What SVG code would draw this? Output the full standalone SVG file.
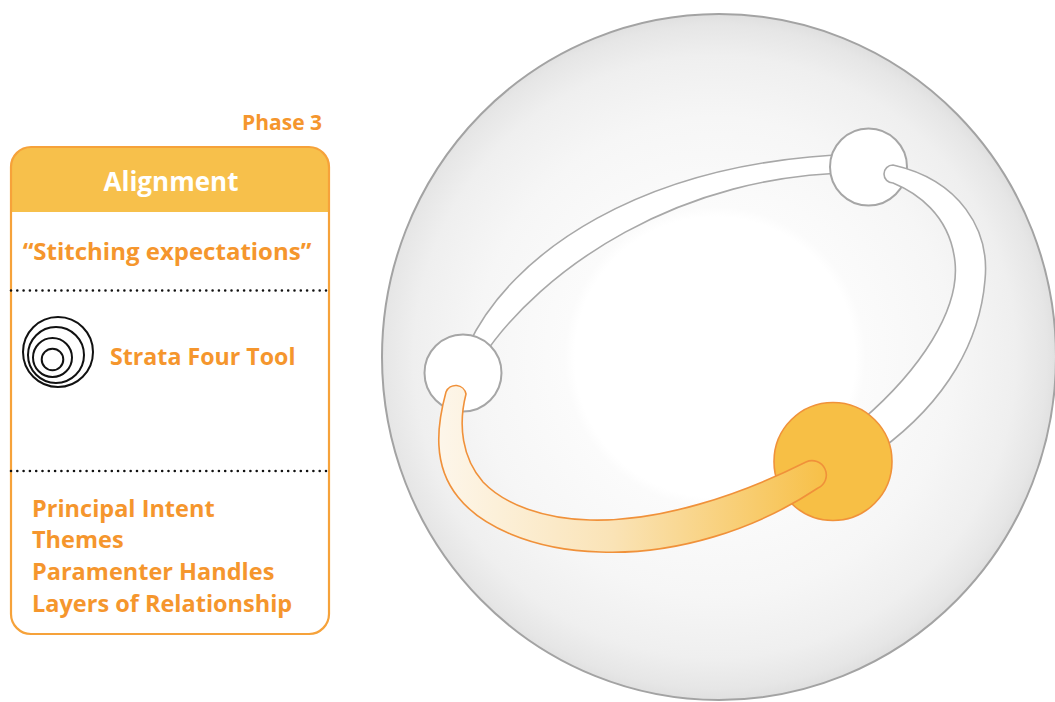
<svg xmlns="http://www.w3.org/2000/svg" width="1055" height="702" viewBox="0 0 1055 702">
  <style>
    .lbl { font-family: "Open Sans", "Liberation Sans", sans-serif; font-weight: 700; fill: #f5962d; }
    .head { font-family: "Open Sans", "Liberation Sans", sans-serif; font-weight: 700; fill: #ffffff; }
    .dots { stroke: #111111; stroke-width: 2.6; stroke-linecap: round; stroke-dasharray: 0 6.3; fill: none; }
    .ring { fill: none; stroke: #111111; stroke-width: 2; }
    .wnode { fill: #ffffff; stroke: #a6a6a6; stroke-width: 2; }
    .wtube { fill: #ffffff; stroke: #a8a8a8; stroke-width: 1.6; }
    .onode { fill: #f7bf45; stroke: #f0923a; stroke-width: 1.6; }
    .otube { fill: url(#tubeGrad); stroke: #f0913a; stroke-width: 1.6; }
  </style>
  <defs>
    <radialGradient id="sphereGrad" gradientUnits="userSpaceOnUse" cx="715" cy="357" r="342">
      <stop offset="0" stop-color="#ffffff"/>
      <stop offset="0.41" stop-color="#ffffff"/>
      <stop offset="0.44" stop-color="#fbfbfb"/>
      <stop offset="0.7" stop-color="#f6f6f6"/>
      <stop offset="0.88" stop-color="#efefef"/>
      <stop offset="0.97" stop-color="#e6e6e6"/>
      <stop offset="1" stop-color="#e0e0e0"/>
    </radialGradient>
    <linearGradient id="tubeGrad" gradientUnits="userSpaceOnUse" x1="440" y1="0" x2="825" y2="0">
      <stop offset="0" stop-color="#fdf6ea"/>
      <stop offset="0.45" stop-color="#fae3b6"/>
      <stop offset="1" stop-color="#f7c048"/>
    </linearGradient>
  </defs>

  <!-- phase card -->
  <g id="phase-card">
    <text class="lbl" x="322" y="130" font-size="21" text-anchor="end">Phase 3</text>
    <path d="M 11 212 V 167 A 20 20 0 0 1 31 147 H 309 A 20 20 0 0 1 329 167 V 212 Z" fill="#f7c04b"/>
    <rect x="11" y="147" width="318" height="487" rx="20" ry="20" fill="none" stroke="#f6a23a" stroke-width="2.2"/>
    <text class="head" x="171" y="190.5" font-size="26" text-anchor="middle">Alignment</text>
    <text class="lbl" x="167" y="259.5" font-size="24" text-anchor="middle">“Stitching expectations”</text>
    <line class="dots" x1="11" y1="290.5" x2="327" y2="290.5"/>
    <g id="strata-icon">
      <circle class="ring" cx="58" cy="352" r="35"/>
      <circle class="ring" cx="56" cy="355" r="28"/>
      <circle class="ring" cx="52.5" cy="357.5" r="19.5"/>
      <circle class="ring" cx="52.5" cy="359.5" r="10.8"/>
    </g>
    <text class="lbl" x="110" y="365" font-size="23.2">Strata Four Tool</text>
    <line class="dots" x1="11" y1="471" x2="327" y2="471"/>
    <text class="lbl" x="32" y="516.7" font-size="23.5">Principal Intent</text>
    <text class="lbl" x="32" y="548.3" font-size="23.5">Themes</text>
    <text class="lbl" x="32" y="580" font-size="23.5">Paramenter Handles</text>
    <text class="lbl" x="32" y="611.7" font-size="23.5">Layers of Relationship</text>
  </g>

  <!-- sphere -->
  <g id="sphere">
    <ellipse cx="719" cy="357" rx="337" ry="343" fill="url(#sphereGrad)" stroke="#a3a3a3" stroke-width="2"/>
  </g>

  <!-- upper white tube runs beneath both white nodes -->
  <g id="connectors-back">
    <path class="wtube" d="M 468 346 C 510 255, 640 160, 860 154 L 860 173 C 680 172, 540 270, 482 358 Z"/>
  </g>

  <g id="node-left">
    <circle class="wnode" cx="463" cy="373" r="38.5"/>
  </g>
  <g id="node-top">
    <circle class="wnode" cx="868.5" cy="167" r="38.5"/>
  </g>

  <!-- right white tube starts on top of the top node and ends under the orange node -->
  <g id="connectors-mid">
    <path class="wtube" d="M 893 165 C 960 180, 990 230, 985 280 C 980 340, 948 400, 880 450 L 862 420 C 920 370, 960 310, 955 262 C 950 214, 915 192, 893 183 A 9 9 0 0 1 893 165 Z"/>
  </g>

  <g id="node-orange">
    <circle class="onode" cx="833" cy="461.5" r="59"/>
  </g>

  <!-- orange tube lies over the left and orange nodes -->
  <g id="connectors">
    <path class="otube" d="M 446 392 C 437 425, 432 465, 458 497 C 480 525, 530 550, 600 552 C 675 555, 755 530, 818 488 A 14 14 0 0 0 806 462 C 740 495, 660 522, 590 520 C 545 519, 505 505, 483 482 C 462 458, 458 425, 466 394 A 10.5 10.5 0 0 0 446 392 Z"/>
  </g>
</svg>
